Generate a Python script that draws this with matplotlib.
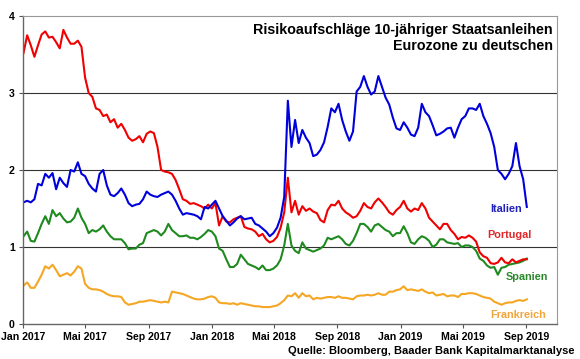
import matplotlib
matplotlib.use("Agg")
import matplotlib.pyplot as plt
import pandas as pd

# weekly readings (Mondays), spread vs. Bunds in percentage points
weeks = pd.date_range("2017-01-02", periods=140, freq="7D")

italien = [
    1.58, 1.60, 1.58, 1.62, 1.82, 1.80, 1.95, 1.90, 1.96, 1.75,
    1.90, 1.83, 1.78, 2.00, 1.98, 2.10, 1.95, 1.92, 1.82, 1.76,
    1.72, 1.95, 2.00, 1.80, 1.68, 1.66, 1.70, 1.76, 1.68, 1.57,
    1.53, 1.55, 1.56, 1.62, 1.72, 1.68, 1.66, 1.65, 1.68, 1.70,
    1.72, 1.68, 1.60, 1.50, 1.42, 1.44, 1.43, 1.42, 1.40, 1.36,
    1.52, 1.50, 1.55, 1.60, 1.50, 1.40, 1.34, 1.28, 1.32, 1.37,
    1.40, 1.36, 1.37, 1.38, 1.30, 1.28, 1.24, 1.20, 1.14, 1.18,
    1.25, 1.38, 1.65, 2.90, 2.30, 2.65, 2.35, 2.52, 2.42, 2.35,
    2.18, 2.20, 2.26, 2.36, 2.56, 2.80, 2.75, 2.86, 2.65, 2.50,
    2.38, 2.50, 3.02, 3.08, 3.22, 3.08, 2.98, 3.02, 3.22, 3.08,
    2.94, 2.85, 2.68, 2.54, 2.52, 2.62, 2.55, 2.46, 2.44, 2.55,
    2.86, 2.75, 2.70, 2.58, 2.45, 2.47, 2.50, 2.54, 2.55, 2.42,
    2.55, 2.66, 2.70, 2.80, 2.80, 2.78, 2.86, 2.70, 2.60, 2.48,
    2.30, 2.00, 1.95, 1.88, 1.95, 2.05, 2.35, 2.05, 1.88, 1.52,
]

portugal = [
    3.52, 3.75, 3.62, 3.47, 3.62, 3.76, 3.80, 3.72, 3.73, 3.66,
    3.58, 3.82, 3.72, 3.64, 3.64, 3.68, 3.60, 3.20, 3.00, 2.95,
    2.80, 2.78, 2.70, 2.72, 2.62, 2.66, 2.55, 2.60, 2.52, 2.42,
    2.38, 2.40, 2.44, 2.36, 2.47, 2.50, 2.48, 2.30, 2.00, 1.98,
    1.97, 1.95, 1.87, 1.75, 1.62, 1.60, 1.56, 1.57, 1.55, 1.53,
    1.50, 1.55, 1.50, 1.57, 1.28, 1.40, 1.33, 1.32, 1.36, 1.38,
    1.40, 1.26, 1.24, 1.23, 1.20, 1.14, 1.17, 1.10, 1.06, 1.08,
    1.13, 1.25, 1.45, 1.90, 1.45, 1.60, 1.42, 1.53, 1.47, 1.50,
    1.46, 1.44, 1.35, 1.32, 1.48, 1.55, 1.54, 1.60, 1.50, 1.45,
    1.42, 1.38, 1.40, 1.47, 1.57, 1.52, 1.50, 1.58, 1.63, 1.58,
    1.52, 1.45, 1.42, 1.48, 1.52, 1.60, 1.50, 1.46, 1.50, 1.48,
    1.57, 1.50, 1.38, 1.33, 1.28, 1.23, 1.30, 1.30, 1.22, 1.17,
    1.10, 1.13, 1.12, 1.15, 1.12, 1.07, 0.93, 0.88, 0.86, 0.79,
    0.78, 0.80, 0.86, 0.80, 0.79, 0.84, 0.80, 0.82, 0.84, 0.84,
]

spanien = [
    1.14, 1.20, 1.08, 1.07, 1.18, 1.30, 1.40, 1.30, 1.48, 1.40,
    1.44, 1.37, 1.32, 1.33, 1.38, 1.50, 1.38, 1.30, 1.18, 1.22,
    1.20, 1.23, 1.28, 1.20, 1.14, 1.10, 1.10, 1.10, 1.05, 0.97,
    0.98, 0.98, 1.03, 1.05, 1.18, 1.20, 1.22, 1.20, 1.15, 1.20,
    1.30, 1.22, 1.18, 1.14, 1.14, 1.15, 1.12, 1.12, 1.10, 1.13,
    1.17, 1.22, 1.20, 1.14, 0.98, 0.95, 0.84, 0.74, 0.74, 0.78,
    0.90, 0.84, 0.78, 0.76, 0.74, 0.71, 0.76, 0.70, 0.70, 0.72,
    0.76, 0.84, 1.02, 1.30, 1.02, 0.95, 0.92, 1.06, 0.98, 0.96,
    0.94, 0.96, 0.98, 1.02, 1.12, 1.10, 1.12, 1.14, 1.10, 1.04,
    1.02, 1.08, 1.18, 1.30, 1.30, 1.26, 1.20, 1.28, 1.30, 1.26,
    1.22, 1.20, 1.14, 1.18, 1.18, 1.27, 1.18, 1.06, 1.04, 1.10,
    1.14, 1.12, 1.08, 1.00, 1.03, 1.10, 1.10, 1.06, 1.05, 1.04,
    1.05, 1.00, 1.02, 1.02, 1.00, 0.95, 0.85, 0.82, 0.76, 0.73,
    0.74, 0.64, 0.73, 0.74, 0.77, 0.78, 0.79, 0.80, 0.82, 0.85,
]

frankreich = [
    0.50, 0.54, 0.47, 0.47, 0.55, 0.64, 0.75, 0.72, 0.77, 0.70,
    0.62, 0.64, 0.66, 0.63, 0.68, 0.75, 0.72, 0.52, 0.47, 0.45,
    0.45, 0.44, 0.42, 0.39, 0.37, 0.36, 0.36, 0.35, 0.28, 0.25,
    0.26, 0.27, 0.29, 0.29, 0.30, 0.31, 0.30, 0.29, 0.28, 0.29,
    0.28, 0.42, 0.41, 0.40, 0.39, 0.37, 0.35, 0.33, 0.32, 0.32,
    0.33, 0.35, 0.36, 0.34, 0.28, 0.27, 0.27, 0.26, 0.27, 0.25,
    0.27, 0.26, 0.25, 0.24, 0.23, 0.23, 0.22, 0.22, 0.22, 0.23,
    0.24, 0.27, 0.31, 0.37, 0.36, 0.40, 0.34, 0.40, 0.36, 0.37,
    0.32, 0.34, 0.33, 0.34, 0.35, 0.35, 0.34, 0.36, 0.34, 0.34,
    0.33, 0.32, 0.36, 0.37, 0.37, 0.38, 0.37, 0.38, 0.40, 0.38,
    0.38, 0.42, 0.42, 0.44, 0.45, 0.49, 0.44, 0.45, 0.44, 0.43,
    0.45, 0.42, 0.40, 0.41, 0.37, 0.38, 0.39, 0.36, 0.37, 0.37,
    0.35, 0.39, 0.39, 0.40, 0.40, 0.39, 0.37, 0.35, 0.34, 0.33,
    0.29, 0.27, 0.25, 0.27, 0.28, 0.28, 0.30, 0.31, 0.30, 0.32,
]

tick_dates = pd.to_datetime([
    "2017-01-01", "2017-05-01", "2017-09-01", "2018-01-01", "2018-05-01",
    "2018-09-01", "2019-01-01", "2019-05-01", "2019-09-01",
])
tick_labels = ["Jan 2017", "Mai 2017", "Sep 2017", "Jan 2018", "Mai 2018",
               "Sep 2018", "Jan 2019", "Mai 2019", "Sep 2019"]

plt.rcParams["font.family"] = ["Liberation Sans", "DejaVu Sans"]
plt.rcParams["font.weight"] = "bold"

fig = plt.figure(figsize=(5.8, 3.59), dpi=100)
ax = fig.add_axes([0.0397, 0.0975, 0.9203, 0.8579])

series = [
    (frankreich, "#F5A623"),
    (spanien, "#1F8A1F"),
    (portugal, "#F00000"),
    (italien, "#0000DD"),
]
for values, color in series:
    ax.plot(weeks, values, color=color, linewidth=1.5)

ax.set_xlim(pd.Timestamp("2017-01-01"), pd.Timestamp("2019-10-30"))
ax.set_ylim(0, 4)
ax.set_yticks([0, 1, 2, 3, 4])
ax.set_xticks(tick_dates)
ax.set_xticklabels(tick_labels)
ax.tick_params(axis="both", labelsize=7.6, length=3, width=0.8,
               colors="#555555", labelcolor="black", pad=3)

for y in [1, 2, 3]:
    ax.axhline(y, color="#333333", linewidth=0.8, zorder=0)

for side in ["left", "bottom"]:
    ax.spines[side].set_color("#666666")
    ax.spines[side].set_linewidth(1.0)
for side in ["top", "right"]:
    ax.spines[side].set_color("#999999")
    ax.spines[side].set_linewidth(0.8)

ax.text(0.9925, 0.978, "Risikoaufschläge 10-jähriger Staatsanleihen\nEurozone zu deutschen",
        transform=ax.transAxes, ha="right", va="top", ma="right",
        fontsize=10.3, fontweight="bold", linespacing=1.2)

labels = [
    ("Italien", 0.934, 0.373, "#2222BB"),
    ("Portugal", 0.953, 0.289, "#E02828"),
    ("Spanien", 0.983, 0.153, "#2A8A2A"),
    ("Frankreich", 0.979, 0.029, "#F2A53A"),
]
for text, x, y, color in labels:
    ax.text(x, y, text, transform=ax.transAxes, ha="right", va="center",
            fontsize=7.8, fontweight="bold", color=color)

fig.text(0.991, 0.022, "Quelle: Bloomberg, Baader Bank Kapitalmarktanalyse",
         ha="right", va="center", fontsize=8.0, fontweight="bold")

fig.savefig("out.png", dpi=100, facecolor="white")
